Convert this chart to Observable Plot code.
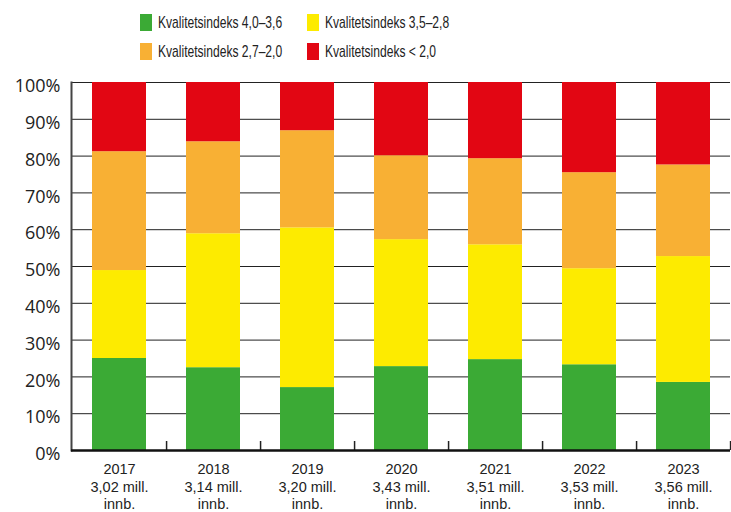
<!DOCTYPE html>
<html><head><meta charset="utf-8">
<script src="https://cdn.jsdelivr.net/npm/d3@7"></script>
<script src="https://cdn.jsdelivr.net/npm/@observablehq/plot@0.6"></script>
<style>
body{margin:0;background:#fff;width:731px;height:512px;overflow:hidden;font-family:"Liberation Sans",sans-serif;color:#222}
#legend{position:relative;height:70px}
.item{position:absolute;display:flex;align-items:center;font-size:17px;height:17px;white-space:nowrap}
.sw{width:12px;height:17px;margin-right:6px;flex:none}
.lt{display:inline-block;transform:scaleX(0.71);transform-origin:left center}
</style></head><body><div id="legend"></div><div id="chart"></div>
<script>
const years = ["2017","2018","2019","2020","2021","2022","2023"];
const population = ["3,02 mill.","3,14 mill.","3,20 mill.","3,43 mill.","3,51 mill.","3,53 mill.","3,56 mill."];
const green  = [25.0, 22.5, 17.1, 22.8, 24.7, 23.3, 18.5];
const yellow = [23.9, 36.4, 43.4, 34.5, 31.2, 26.1, 34.2];
const orange = [32.3, 25.0, 26.4, 22.8, 23.4, 26.1, 24.9];
const red    = [18.8, 16.1, 13.1, 19.9, 20.7, 24.5, 22.4];
const categories = ["Kvalitetsindeks 4,0–3,6","Kvalitetsindeks 3,5–2,8","Kvalitetsindeks 2,7–2,0","Kvalitetsindeks < 2,0"];
const colors = ["#3baa35","#fdeb00","#f8b034","#e20613"];
const yTicks = [0,10,20,30,40,50,60,70,80,90,100];

// legend
const legendPos = [[140,14],[307,14],[140,43],[307,43]];
const legend = document.getElementById("legend");
categories.forEach((c,i)=>{
  const it = document.createElement("div");
  it.className="item";
  it.style.left = legendPos[i][0]+"px";
  it.style.top = legendPos[i][1]+"px";
  const sw = document.createElement("span"); sw.className="sw"; sw.style.background = colors[i];
  const t = document.createElement("span"); t.className="lt"; t.textContent = c;
  it.appendChild(sw); it.appendChild(t);
  legend.appendChild(it);
});

const series = [green, yellow, orange, red];
const table = years.flatMap((yr,i)=>categories.map((c,k)=>({year:yr, cat:c, value:series[k][i]})));

const W = 731, ML = 71, MR = 1;
const step = (W-ML-MR)/years.length;

const chart = Plot.plot({
  width: W, height: 442,
  marginTop: 12, marginBottom: 62, marginLeft: ML, marginRight: MR,
  style: {background:"#fff", color:"#222"},
  x: {domain: years, paddingInner: 0.43, paddingOuter: 0.215, label: null},
  y: {domain: [0,100], label: null},
  color: {domain: categories, range: colors},
  marks: [
    Plot.gridY(yTicks.slice(1), {stroke:"#222", strokeOpacity:1, strokeWidth:1}),
    Plot.barY(table, Plot.stackY({x:"year", y:"value", fill:"cat", order: categories})),
    Plot.axisY(yTicks, {tickSize:0, tickPadding:11, tickFormat:d=>d+"%", fontSize:18, fontFamily:"Open Sans", dy:4, fill:"#222"}),
    Plot.axisX({tickSize:0, tickPadding:11, tickFormat:d=>`${d}\n${population[years.indexOf(d)]}\ninnb.`, fontSize:14.5, lineHeight:1.22, fontFamily:"Liberation Sans", fill:"#222"}),
    Plot.ruleX(years, {x:d=>d, y1:0, y2:2.45, dx: step/2, stroke:"#222", strokeWidth:1.5}),
    Plot.frame({anchor:"left", stroke:"#444", strokeWidth:2}),
    Plot.ruleY([0], {stroke:"#111", strokeWidth:2.5})
  ]
});
document.getElementById("chart").appendChild(chart);
</script></body></html>
